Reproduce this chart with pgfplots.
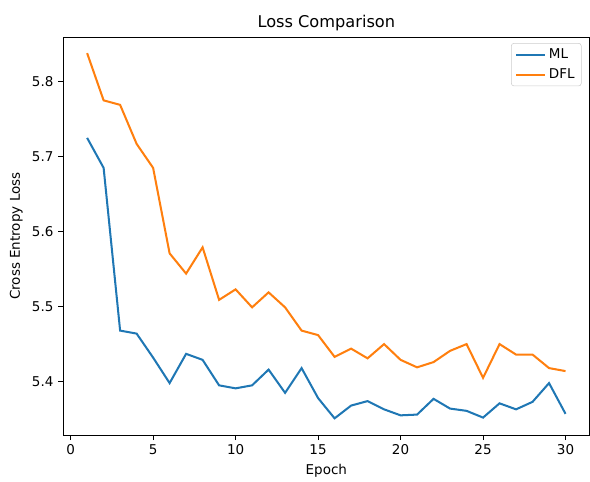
\documentclass[border=0pt]{standalone}
\usepackage{fontspec}
\setmainfont{DejaVu Sans}
\usepackage{pgfplots}
\pgfplotsset{compat=1.18}
\definecolor{mplblue}{HTML}{1F77B4}
\definecolor{mplorange}{HTML}{FF7F0E}
\begin{document}
\begin{tikzpicture}
\begin{axis}[
    scale only axis,
    width=390pt,
    height=295pt,
    xmin=-0.45, xmax=31.45,
    ymin=5.3286, ymax=5.8594,
    xtick={0,5,10,15,20,25,30},
    ytick={5.4,5.5,5.6,5.7,5.8},
    yticklabel style={/pgf/number format/.cd,fixed,fixed zerofill,precision=1},
    /pgf/number format/assume math mode=true,
    tick align=outside,
    xtick pos=bottom,
    ytick pos=left,
    major tick length=3.7pt,
    axis line style={line width=0.8pt},
    tick style={line width=0.8pt, black},
    tick label style={font=\fontsize{10}{12}\selectfont},
    label style={font=\fontsize{10}{12}\selectfont},
    title style={font=\fontsize{12}{14}\selectfont, yshift=-5pt},
    title={Loss Comparison},
    xlabel={Epoch},
    ylabel={Cross Entropy Loss},
    legend style={font=\fontsize{10}{12}\selectfont, draw=black!20, rounded corners=2pt,
        at={(0.985,0.985)}, anchor=north east, row sep=2pt},
    legend cell align=left,
    legend image code/.code={\draw[#1] (0cm,0cm) -- (0.75cm,0cm);},
]
\addplot[mplblue, line width=1.5pt] coordinates {
(1,5.725) (2,5.685) (3,5.468) (4,5.464) (5,5.432) (6,5.398) (7,5.437) (8,5.429)
(9,5.395) (10,5.391) (11,5.395) (12,5.416) (13,5.385) (14,5.418) (15,5.378)
(16,5.351) (17,5.368) (18,5.374) (19,5.363) (20,5.355) (21,5.356) (22,5.377)
(23,5.364) (24,5.361) (25,5.352) (26,5.371) (27,5.363) (28,5.373) (29,5.398) (30,5.357)
};
\addlegendentry{ML}
\addplot[mplorange, line width=1.5pt] coordinates {
(1,5.838) (2,5.775) (3,5.769) (4,5.717) (5,5.685) (6,5.571) (7,5.544) (8,5.579)
(9,5.509) (10,5.523) (11,5.499) (12,5.519) (13,5.499) (14,5.468) (15,5.462)
(16,5.433) (17,5.444) (18,5.431) (19,5.450) (20,5.429) (21,5.419) (22,5.426)
(23,5.441) (24,5.450) (25,5.405) (26,5.450) (27,5.436) (28,5.436) (29,5.418) (30,5.414)
};
\addlegendentry{DFL}
\end{axis}
\path (current bounding box.north west) ++(-4pt,8pt);
\end{tikzpicture}
\end{document}
